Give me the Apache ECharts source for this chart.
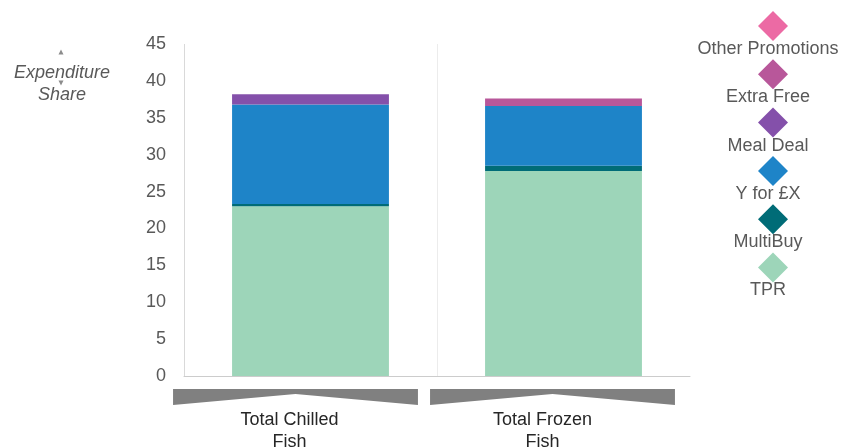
<!DOCTYPE html>
<html>
<head>
<meta charset="utf-8">
<script src="https://cdn.jsdelivr.net/npm/echarts@6/dist/echarts.min.js"></script>
<style>
  html, body { margin: 0; padding: 0; background: #ffffff; overflow: hidden; }
  #chart { width: 852px; height: 448px; }
</style>
</head>
<body>
<div id="chart"></div>
<script>
// Promotion share of expenditure, fish categories
const categories = ['Total Chilled\nFish', 'Total Frozen\nFish'];
const seriesNames = ['TPR', 'MultiBuy', 'Y for £X', 'Meal Deal', 'Extra Free', 'Other Promotions'];
const tpr = [23.0, 27.8];
const multiBuy = [0.3, 0.7];
const yForX = [13.5, 8.1];
const mealDeal = [1.4, 0];
const extraFree = [0, 1.0];
const otherPromotions = [0, 0];
const yMin = 0, yMax = 45, yStep = 5;
const yTitleLines = ['Expenditure', 'Share'];

const seriesValues = [tpr, multiBuy, yForX, mealDeal, extraFree, otherPromotions];
const colors = ['#9dd5b9', '#006c77', '#1e84c8', '#8450aa', '#b8579a', '#ec6aa4'];
const FONT = '"Liberation Sans", Arial, sans-serif';
const TEXT = '#595959';

const chart = echarts.init(document.getElementById('chart'), null, { renderer: 'canvas', width: 852, height: 448 });

const series = seriesNames.map((name, i) => ({
  name: name,
  type: 'bar',
  stack: 'share',
  barWidth: '62%',
  itemStyle: { color: colors[i] },
  emphasis: { disabled: true },
  data: seriesValues[i]
}));

chart.setOption({
  animation: false,
  color: colors,
  grid: {
    left: 184, right: 162, top: 44, bottom: 72,
    containLabel: false,
    outerBoundsMode: 'none'
  },
  legend: {
    data: seriesNames.slice().reverse(),
    orient: 'vertical',
    left: 753,
    top: 6,
    icon: 'diamond',
    itemWidth: 30,
    itemHeight: 30,
    itemGap: 18.3,
    formatter: () => '',
    selectedMode: false
  },
  xAxis: {
    type: 'category',
    data: categories,
    axisTick: { show: false },
    axisLine: { show: true, lineStyle: { color: '#cccccc', width: 1 } },
    splitLine: {
      show: true,
      lineStyle: { color: ['#d9d9d9', '#ececec', 'rgba(0,0,0,0)'], width: 1 }
    },
    axisLabel: {
      margin: 33,
      color: '#262626',
      fontFamily: FONT,
      fontSize: 18,
      lineHeight: 22,
      padding: [0, 42, 0, 0]
    }
  },
  yAxis: {
    type: 'value',
    min: yMin,
    max: yMax,
    interval: yStep,
    axisLine: { show: false },
    axisTick: { show: false },
    splitLine: { show: false },
    axisLabel: { margin: 18, color: TEXT, fontFamily: FONT, fontSize: 18 }
  },
  series: series
});

// Decorations laid out from the axis scales: bracket shapes under each
// category, legend captions beneath the diamonds, and the y title.
function buildGraphics() {
  const g = [];
  const y0 = chart.convertToPixel({ yAxisIndex: 0 }, yMin);
  const c0 = chart.convertToPixel({ xAxisIndex: 0 }, categories[0]);
  const c1 = chart.convertToPixel({ xAxisIndex: 0 }, categories[1]);
  const band = c1 - c0;
  const half = band * 0.484;
  const shifts = [-15, -11];
  categories.forEach((cat, i) => {
    const c = chart.convertToPixel({ xAxisIndex: 0 }, cat) + shifts[i];
    g.push({
      type: 'polygon',
      silent: true,
      shape: {
        points: [
          [c - half, y0 + 13], [c + half, y0 + 13], [c + half, y0 + 29],
          [c, y0 + 18], [c - half, y0 + 29]
        ]
      },
      style: { fill: '#808080' }
    });
  });

  // legend captions, centred under each diamond
  const legendOrder = seriesNames.slice().reverse();
  legendOrder.forEach((name, i) => {
    const cy = 21 + i * 48.3;
    g.push({
      type: 'text',
      silent: true,
      x: 768,
      y: cy + 28,
      style: {
        text: name,
        fill: TEXT,
        font: '18px ' + FONT,
        align: 'center',
        verticalAlign: 'middle'
      }
    });
  });

  // y axis title with its small arrow marks
  g.push({
    type: 'polygon', silent: true,
    shape: { points: [[61, 49.5], [63.5, 54.5], [58.5, 54.5]] },
    style: { fill: '#8c8c8c' }
  });
  g.push({
    type: 'polygon', silent: true,
    shape: { points: [[58.5, 80.5], [63.5, 80.5], [61, 85.5]] },
    style: { fill: '#8c8c8c' }
  });
  yTitleLines.forEach((line, i) => {
    g.push({
      type: 'text', silent: true, x: 62, y: 73 + i * 22,
      style: {
        text: line, fill: TEXT, font: 'italic 18px ' + FONT,
        align: 'center', verticalAlign: 'middle'
      }
    });
  });
  return g;
}

chart.setOption({ graphic: buildGraphics() });
</script>
</body>
</html>
